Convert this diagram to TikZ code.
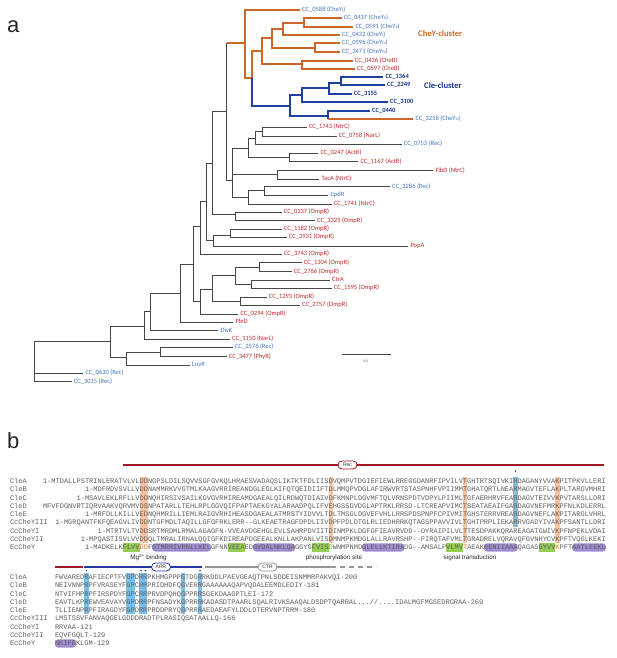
\documentclass[tikz,border=0pt]{standalone}
\usepackage{fontspec}
\setmainfont{Carlito}
\setmonofont{Liberation Mono}
\newfontfamily\arialf{Liberation Sans}
\definecolor{tgray}{RGB}{70,70,70}
\definecolor{cor}{RGB}{206,104,42}
\definecolor{cbl}{RGB}{32,64,160}
\definecolor{lblue}{RGB}{68,114,196}
\definecolor{lred}{RGB}{196,40,40}
\definecolor{ldblue}{RGB}{25,55,150}
\definecolor{seqc}{RGB}{95,95,95}
\definecolor{hor}{RGB}{246,196,160}
\definecolor{hbl}{RGB}{125,190,232}
\definecolor{hgr}{RGB}{150,205,85}
\definecolor{hpu}{RGB}{160,140,208}
\definecolor{otx}{RGB}{225,120,40}
\definecolor{recred}{RGB}{160,25,35}
\definecolor{arrbl}{RGB}{35,55,160}
\definecolor{ctrg}{RGB}{150,150,150}
\newcommand\rn[1]{{\fontsize{4.2}{5}\selectfont #1}}
\newcommand\oc[1]{\textcolor{otx}{#1}}
\tikzset{
 br/.style={tgray, line width=0.8pt},
 ob/.style={cor, line width=1.7pt},
 bb/.style={cbl, line width=1.7pt},
 lf/.style={anchor=west, inner xsep=2.2pt, inner ysep=0pt, outer sep=0pt, text height=4.3pt, text depth=1.3pt, font=\fontsize{6.5}{7}\selectfont},
 lb/.style={lf, text=lblue},
 lr/.style={lf, text=lred},
 ld/.style={lf, text=ldblue, font=\fontsize{6.5}{7}\selectfont\bfseries},
 sq/.style={anchor=base west, inner sep=0pt, outer sep=0pt, text=seqc, font=\ttfamily\fontsize{7}{7}\selectfont},
 pill/.style={rounded corners=4pt, fill=white, line width=0.8pt, minimum width=19pt, minimum height=8pt, inner sep=0pt, text=black!80, font=\arialf\fontsize{5}{5}\selectfont},
 annot/.style={inner sep=0pt, text=black!85, font=\arialf\fontsize{6.3}{7}\selectfont},
 dotm/.style={circle, fill=black, inner sep=0pt, minimum size=1.5pt}
}
\begin{document}
\begin{tikzpicture}[x=1pt,y=-1pt]
\fill[white] (0,0) rectangle (617,658);
\useasboundingbox (0,0) rectangle (617,658);
\node[anchor=base west, inner sep=0pt, font=\arialf\fontsize{22}{22}\selectfont, text=black!85] (pa) at (7,33) {a};
\node[anchor=base west, inner sep=0pt, font=\arialf\fontsize{22}{22}\selectfont, text=black!85] (pb) at (7,448) {b};

% ---------------- leaves ----------------
\node[lb] (l0588) at (300,10) {CC\_0588 (CheY\rn{I})};
\node[lb] (l0437) at (341.7,18.3) {CC\_0437 (CheY\rn{II})};
\node[lb] (l0591) at (353.3,26.7) {CC\_0591 (CheY\rn{II})};
\node[lb] (l0432) at (340,35) {CC\_0432 (CheY\rn{I})};
\node[lb] (l0596) at (340,43.3) {CC\_0596 (CheY\rn{IV})};
\node[lb] (l3471) at (340,51.7) {CC\_3471 (CheY\rn{IV})};
\node[lr] (l0436) at (352.7,60.7) {CC\_0436 (CheB)};
\node[lr] (l0597) at (355,69.3) {CC\_0597 (CheB)};
\node[ld] (l1364) at (383.3,77.3) {CC\_1364};
\node[ld] (l2249) at (385,85) {CC\_2249};
\node[ld] (l3155) at (351.7,94.3) {CC\_3155};
\node[ld] (l3100) at (388,101.7) {CC\_3100};
\node[ld] (l0440) at (370,110.7) {CC\_0440};
\node[lb] (l3258) at (413.3,119.3) {CC\_3258 (CheY\rn{III})};
\node[lr] (l1743) at (306.7,127.3) {CC\_1743 (NtrC)};
\node[lr] (l0758) at (336.7,136) {CC\_0758 (NarL)};
\node[lb] (l0753) at (401.7,144.3) {CC\_0753 (Rec)};
\node[lr] (l0247) at (318.3,153.3) {CC\_0247 (ActR)};
\node[lr] (l1167) at (358.3,161.7) {CC\_1167 (ActR)};
\node[lr] (lFlbD) at (433.3,170.7) {FlbD (NtrC)};
\node[lr] (lTacA) at (319.3,179.3) {TacA (NtrC)};
\node[lb] (l3286) at (390,186.7) {CC\_3286 (Rec)};
\node[lb] (lCpdR) at (328.3,195.3) {CpdR};
\node[lr] (l1741) at (331.7,204) {CC\_1741 (NtrC)};
\node[lr] (l0237) at (281.7,212.3) {CC\_0237 (OmpR)};
\node[lr] (l3325) at (315,220.7) {CC\_3325 (OmpR)};
\node[lr] (l1182) at (281.7,229) {CC\_1182 (OmpR)};
\node[lr] (l2931) at (286.7,237.3) {CC\_2931 (OmpR)};
\node[lr] (lPopA) at (408.3,246) {PopA};
\node[lr] (l3743) at (281.7,254) {CC\_3743 (OmpR)};
\node[lr] (l1304) at (301.7,262.7) {CC\_1304 (OmpR)};
\node[lr] (l2766) at (291.7,271.7) {CC\_2766 (OmpR)};
\node[lr] (lCtrA) at (330,280) {CtrA};
\node[lr] (l1595) at (331.7,288.3) {CC\_1595 (OmpR)};
\node[lr] (l1293) at (266.7,297.3) {CC\_1293 (OmpR)};
\node[lr] (l2757) at (300,305) {CC\_2757 (OmpR)};
\node[lr] (l0294) at (238.3,314) {CC\_0294 (OmpR)};
\node[lr] (lPleD) at (233.3,322.3) {PleD};
\node[lb] (lDivK) at (218.3,330.7) {DivK};
\node[lr] (l1150) at (230,339) {CC\_1150 (NarL)};
\node[lb] (l2576) at (233,347.3) {CC\_2576 (Rec)};
\node[lr] (l3477) at (226.7,356.7) {CC\_3477 (PhyR)};
\node[lb] (lLovR) at (190,365) {LovR};
\node[lb] (l0630) at (83.3,373.3) {CC\_0630 (Rec)};
\node[lb] (l3015) at (71.7,381.7) {CC\_3015 (Rec)};

\node[anchor=west, inner sep=0pt, text=cor, font=\fontsize{8.6}{9}\selectfont\bfseries] (cheyc) at (418,34) {CheY-cluster};
\node[anchor=west, inner sep=0pt, text=ldblue, font=\fontsize{8.6}{9}\selectfont\bfseries] (clec) at (424,86) {Cle-cluster};

% ---------------- internal nodes ----------------
\coordinate (R0) at (34.3,360);
\coordinate (A) at (110.7,341.7);
\coordinate (C) at (126,357.3);
\coordinate (D) at (160,352.3);
\coordinate (B) at (144,326);
\coordinate (E) at (150.7,311.7);
\coordinate (F) at (180,293.3);
\coordinate (Q) at (193.3,264);
\coordinate (Rr) at (200,301.7);
\coordinate (S) at (212.7,289.3);
\coordinate (T) at (235,275.7);
\coordinate (V) at (259.3,267.3);
\coordinate (W) at (251.7,284);
\coordinate (U) at (240,301);
\coordinate (P) at (200,226.7);
\coordinate (N00) at (206.7,201.7);
\coordinate (X) at (213.3,240);
\coordinate (Y) at (230,235);
\coordinate (N0) at (212.3,163.3);
\coordinate (Z) at (235,214.3);
\coordinate (N1) at (226.7,111.7);
\coordinate (N15) at (232.7,180);
\coordinate (G1) at (248.3,148.3);
\coordinate (G2) at (277.7,174);
\coordinate (G3) at (248.3,197.3);
\coordinate (H) at (255.7,138.3);
\coordinate (J) at (262.3,131.7);
\coordinate (I) at (289.3,157.3);
\coordinate (K) at (264,190.7);
\coordinate (N2) at (245,43.3);
\coordinate (N3) at (251.7,78.3);
\coordinate (N4) at (262.3,50.7);
\coordinate (N5) at (271.7,38.3);
\coordinate (N6) at (282.7,29.3);
\coordinate (N7) at (304,22.7);
\coordinate (N8) at (315,47.7);
\coordinate (N9) at (301.7,64);
\coordinate (N10) at (290,106);
\coordinate (N11) at (301.7,95);
\coordinate (N12) at (329.3,88.3);
\coordinate (N13) at (340.7,82.7);
\coordinate (N14) at (328.3,116);

% ---------------- gray branches ----------------
\draw[br] (R0) |- (A);
\draw[br] (R0) |- (l0630.west);
\draw[br] (R0) |- (l3015.west);
\draw[br] (A) |- (B);
\draw[br] (A) |- (C);
\draw[br] (C) |- (D);
\draw[br] (C) |- (lLovR.west);
\draw[br] (D) |- (l2576.west);
\draw[br] (D) |- (l3477.west);
\draw[br] (B) |- (E);
\draw[br] (B) |- (l1150.west);
\draw[br] (E) |- (F);
\draw[br] (E) |- (lDivK.west);
\draw[br] (F) |- (Q);
\draw[br] (F) |- (lPleD.west);
\draw[br] (Q) |- (P);
\draw[br] (Q) |- (Rr);
\draw[br] (Rr) |- (S);
\draw[br] (Rr) |- (l0294.west);
\draw[br] (S) |- (T);
\draw[br] (S) |- (U);
\draw[br] (T) |- (V);
\draw[br] (T) |- (W);
\draw[br] (V) |- (l1304.west);
\draw[br] (V) |- (l2766.west);
\draw[br] (W) |- (lCtrA.west);
\draw[br] (W) |- (l1595.west);
\draw[br] (U) |- (l1293.west);
\draw[br] (U) |- (l2757.west);
\draw[br] (P) |- (N00);
\draw[br] (P) |- (l3743.west);
\draw[br] (N00) |- (N0);
\draw[br] (N00) |- (X);
\draw[br] (X) |- (Y);
\draw[br] (X) |- (lPopA.west);
\draw[br] (Y) |- (l1182.west);
\draw[br] (Y) |- (l2931.west);
\draw[br] (N0) |- (N1);
\draw[br] (N0) |- (Z);
\draw[br] (Z) |- (l0237.west);
\draw[br] (Z) |- (l3325.west);
\draw[br] (N1) |- (N15);
\draw[br] (N15) |- (G1);
\draw[br] (N15) |- (G2);
\draw[br] (N15) |- (G3);
\draw[br] (G1) |- (H);
\draw[br] (G1) |- (I);
\draw[br] (H) |- (J);
\draw[br] (H) |- (l0753.west);
\draw[br] (J) |- (l1743.west);
\draw[br] (J) |- (l0758.west);
\draw[br] (I) |- (l0247.west);
\draw[br] (I) |- (l1167.west);
\draw[br] (G2) |- (lFlbD.west);
\draw[br] (G2) |- (lTacA.west);
\draw[br] (G3) |- (K);
\draw[br] (G3) |- (l1741.west);
\draw[br] (K) |- (l3286.west);
\draw[br] (K) |- (lCpdR.west);
\draw[br] (N1) -- (N1 |- N2);

% ---------------- orange / blue clades ----------------
\draw[ob] (N1 |- N2) -- (N2);
\draw[ob] (N2) |- (l0588.west);
\draw[ob] (N2) |- (N3);
\draw[ob] (N3) |- (N4);
\draw[ob] (N4) |- (N5);
\draw[ob] (N4) |- (N9);
\draw[ob] (N5) |- (N6);
\draw[ob] (N5) |- (N8);
\draw[ob] (N6) |- (N7);
\draw[ob] (N6) |- (l0432.west);
\draw[ob] (N7) |- (l0437.west);
\draw[ob] (N7) |- (l0591.west);
\draw[ob] (N8) |- (l0596.west);
\draw[ob] (N8) |- (l3471.west);
\draw[ob] (N9) |- (l0436.west);
\draw[ob] (N9) |- (l0597.west);
\draw[bb] (N3) |- (N10);
\draw[bb] (N10) |- (N11);
\draw[bb] (N10) |- (N14);
\draw[bb] (N11) |- (N12);
\draw[bb] (N11) |- (l3100.west);
\draw[bb] (N12) |- (N13);
\draw[bb] (N12) |- (l3155.west);
\draw[bb] (N13) |- (l1364.west);
\draw[bb] (N13) |- (l2249.west);
\draw[bb] (N14) |- (l0440.west);
\draw[bb] (N14) -- (N14 |- l3258.west);
\draw[ob] (N14 |- l3258.west) -- (l3258.west);

% scale bar
\coordinate (sb1) at (341.7,354.3);
\coordinate (sb2) at (390.7,354.3);
\draw[tgray, line width=0.6pt] (sb1) -- (sb2);
\node[inner sep=0pt, text=tgray, font=\fontsize{3.6}{4}\selectfont] (sbl) at (366,361.7) {0.5};

% ================= panel b, block 1 =================
\coordinate (rl1) at (123,465);
\coordinate (rl2) at (604,465);
\draw[recred, line width=1.8pt] (rl1) -- (rl2);
\node[pill, draw=recred] (rec) at (347.5,465) {Rec};
\node[dotm] (dt1) at (515.5,471) {};

\fill[hor] (139.6,476.8) rectangle (148,543.2);
\fill[hor] (328.6,476.8) rectangle (332.8,543.2);
\fill[hor] (463,476.8) rectangle (467.2,543.2);
\fill[hor] (555.4,476.8) rectangle (559.6,543.2);
\fill[hbl] (513.4,476.8) rectangle (517.6,526.7);
% EcCheY boxes
\fill[hgr] (122.8,543.3) rectangle (139.6,551.5);
\fill[hpu, rounded corners=3pt] (152.2,543.3) rectangle (211,551.5);
\fill[hgr] (227.8,543.3) rectangle (244.6,551.5);
\fill[hpu, rounded corners=3pt] (253,543.3) rectangle (295,551.5);
\fill[hgr] (311.8,543.3) rectangle (328.6,551.5);
\fill[hpu, rounded corners=3pt] (362.2,543.3) rectangle (404.2,551.5);
\fill[hgr] (446.2,543.3) rectangle (463,551.5);
\fill[hpu, rounded corners=3pt] (484,543.3) rectangle (517.6,551.5);
\fill[hgr] (538.6,543.3) rectangle (555.4,551.5);
\fill[hpu, rounded corners=3pt] (572.2,543.3) rectangle (605.8,551.5);

\node[sq] (n1a) at (10,483.4) {CleA};
\node[sq] (n1b) at (10,491.7) {CleB};
\node[sq] (n1c) at (10,500) {CleC};
\node[sq] (n1d) at (10,508.3) {CleD};
\node[sq] (n1e) at (10,516.6) {CleE};
\node[sq] (n1f) at (10,524.9) {CcCheYIII};
\node[sq] (n1g) at (10,533.2) {CcCheYI};
\node[sq] (n1h) at (10,541.5) {CcCheYII};
\node[sq] (n1i) at (10,549.8) {EcCheY};

\node[sq] (s1a) at (43,483.4) {1-MTDALLPSTRINLERATVLVLDDNGPSLDILSQVVSGFGVKQLHRAESVADAQSLIKTKTFDLIISDVQMPVTDGIEFIEWLRREGGDANRFIPVILVTGHTRTSQIVKIRDAGANYVVAKPITPKVLLERI};
\node[sq] (s1b) at (85,491.7) {1-MDFRDVSVLLVDDNAMMRKVVGTMLKAAGVRRIREANDGLEGLKIFQTQEIDIIFTDLMMQPVDGLAFIRWVRTSTASPNHFVPIIMMTGHATQRTLNEARMAGVTEFLAKPLTARGVMHRI};
\node[sq] (s1c) at (76.6,500) {1-MSAVLEKLRFLLVDDNQHIRSIVSAILKGVGVRHIREAMDGAEALQILRDWQTDIAIVDFKMNPLDGVMFTQLVRNSPDTVDPYLPIIMLTGFAERHRVFEARDAGVTEIVVKPVTARSLLDRI};
\node[sq] (s1d) at (43,508.3) {MFVFDGNVRTIQRVAAKVQRVMVDSNPATARLLTEHLRPLGGVQIFPAPTAEKGYALARAADPQLIFVEHGSSGVDGLAPTRKLRRSD-LTCREAPVIMCTSEATAEAIFGARDAGVNEFMRKPFNLKDLERRL};
\node[sq] (s1e) at (85,516.6) {1-MRFDLLKILLVEDNQHMRILLIEMLRAIGVRHIHEASDGAEALATMRSTYIDVVLTDLTMSGLDGVEFVHLLRRSPDSPNPFCPIVMITGHSTERRVREARDAGVNEFLAKPITARGLVHRL};
\node[sq] (s1f) at (55.6,524.9) {1-MGRQANTFKFQEAGVLIVDDNTGFMDLTAQILLGFGFRKLERR--GLKEAETRAGFDPDLIIVDPFPDLDTGLRLIEDHRRKQTAGSPPAVVIVLTGHTPRPLIEKARRVGADYIVAKPFSANTLLDRI};
\node[sq] (s1g) at (97.6,533.2) {1-MTRTVLTVDDSRTMRDMLRMALAGAGFN-VVEAVDGEHGLEVLSAHRPDVIITDINMPKLDGFGFIEAVRVDD--DYRAIPILVLTTESDPAKKQRAREAGATGWIVKPFNPEKLVDAI};
\node[sq] (s1h) at (80.8,541.5) {1-MPQASTISVLVVDDQLTMRALIRNALQQIGFKDIREAPDGEEALKNLLAKPANLVISDMNMPKMDGLALLRAVRSHP--PIRQTAFVMLTGRADRELVQRAVQFGVNHYCVKPFTVQGLKEKI};
\node[sq] (s1i) at (85,549.8) {1-MADKELKFLVV\oc{DD}FSTMRRIVRNLLKELGFNNVEEAEDGVDALNKLQAGGYGFVIS\oc{D}WNMPNMDGLELLKTIRADG--AMSALPVLMV\oc{T}AEAKKENIIAAAQAGASGYVV\oc{K}PFTAATLEEKL};

\node[annot] (mg) at (148.5,557.5) {Mg\textsuperscript{2+} binding};
\node[annot] (ph) at (334,557.5) {phosphorylation site};
\node[annot] (st) at (470,557.5) {signal transduction};

% ================= panel b, block 2 =================
\coordinate (r2a) at (55,567);
\coordinate (r2b) at (83,567);
\coordinate (b2a) at (84,567);
\coordinate (b2b) at (202,567);
\coordinate (g2a) at (205,567);
\coordinate (g2b) at (336,567);
\coordinate (d2a) at (340,567);
\coordinate (d2b) at (376,567);
\draw[recred, line width=1.8pt] (r2a) -- (r2b);
\draw[arrbl, line width=1.5pt] (b2a) -- (b2b);
\draw[ctrg, line width=1.5pt] (g2a) -- (g2b);
\draw[ctrg, line width=1.5pt, dash pattern=on 5pt off 4pt] (d2a) -- (d2b);
\node[pill, draw=arrbl] (arr) at (161,567) {ARR};
\node[pill, draw=ctrg] (ctr) at (267.5,567) {CTR};
\node[dotm] (dt2) at (86.5,570.6) {};
\node[dotm] (dt3) at (141.1,570.6) {};
\node[dotm] (dt4) at (145.3,570.6) {};
\node[dotm] (dt5) at (200,570.6) {};

\fill[hbl] (84.4,572.8) rectangle (88.6,614.4);
\fill[hbl] (126.4,572.8) rectangle (134.8,614.4);
\fill[hbl] (139,572.8) rectangle (147.4,614.4);
\fill[hbl] (181,572.8) rectangle (185.2,614.4);
\fill[hbl] (197.8,572.8) rectangle (202,614.4);
\fill[hpu, rounded corners=3pt] (55,639.3) rectangle (76,647.5);

\node[sq] (n2a) at (10,579.4) {CleA};
\node[sq] (n2b) at (10,587.7) {CleB};
\node[sq] (n2c) at (10,596) {CleC};
\node[sq] (n2d) at (10,604.3) {CleD};
\node[sq] (n2e) at (10,612.6) {CleE};
\node[sq] (n2f) at (10,620.9) {CcCheYIII};
\node[sq] (n2g) at (10,629.2) {CcCheYI};
\node[sq] (n2h) at (10,637.5) {CcCheYII};
\node[sq] (n2i) at (10,645.8) {EcCheY};

\node[sq] (s2a) at (55,579.4) {FWVAREDRAFIECPTFVGPDRRPKHMGPPPGTDGRRKDDLPAEVGEAQTPNLSDDEISNMMRPAKVQI-200};
\node[sq] (s2b) at (55,587.7) {NEIVNNPRPFVRASEYFGPCRRPRIDHDFQGVERRGAAAAAAQAPVQDALEEMDLEDIY-181};
\node[sq] (s2c) at (55,596) {NTVIFHPRPFIRSPDYFGPCRRPRVDPQHQGPPRRSGEKDAAGPTLEI-172};
\node[sq] (s2d) at (55,604.3) {EAVTLKPREWVEAVAYVGPDRRPFNSADYKGPRRRKADASDTPAARLSQALRIVKSAAQALDSDPTQARRAL...//....IDALMGFMGSEDRGRAA-269};
\node[sq] (s2e) at (55,612.6) {TLLIENPRPFIRAGDYFGPDRRPRDDPRYQGPRRRAEDAEAFYLDDLDTERVNPTRRM-180};
\node[sq] (s2f) at (55,620.9) {LMSTSSVFANVAQGELGDDDRADTPLRASIQSATAALLQ-166};
\node[sq] (s2g) at (55,629.2) {RRVAA-121};
\node[sq] (s2h) at (55,637.5) {EQVFGQLT-129};
\node[sq] (s2i) at (55,645.8) {NKIFEKLGM-129};
\end{tikzpicture}
\end{document}
